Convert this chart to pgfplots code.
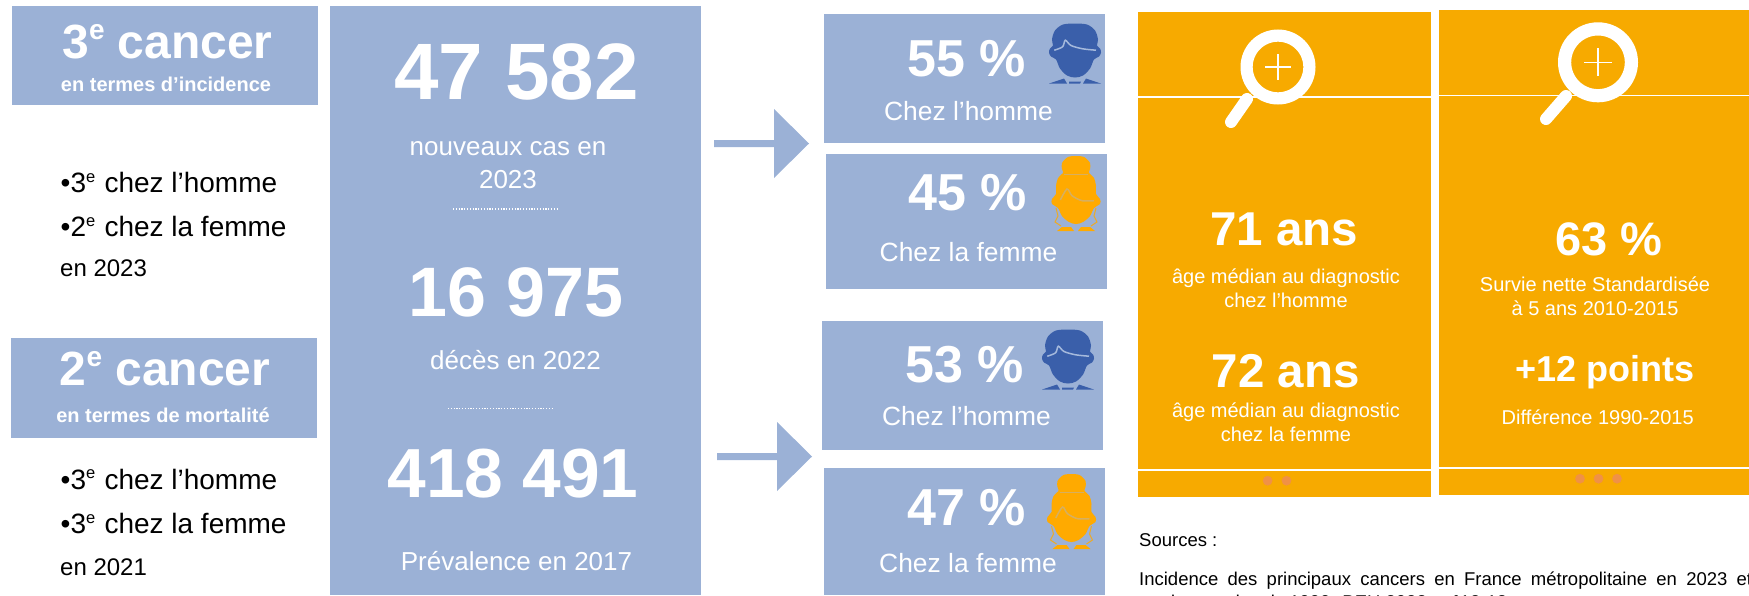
\documentclass[border=0pt]{standalone}
\usepackage{pgfplots}
\pgfplotsset{compat=1.18}
\usepackage{pgfplotstable}
\usepackage{fontspec}
\setmainfont{Liberation Sans}
\definecolor{pblue}{RGB}{155,177,214}
\definecolor{porange}{RGB}{247,170,0}
\definecolor{mblue}{RGB}{58,95,170}
\definecolor{mline}{RGB}{165,185,220}
\definecolor{fline}{RGB}{215,175,95}
\definecolor{ficon}{RGB}{255,170,0}
\definecolor{pdot}{RGB}{240,145,70}

% 1 px of the picture = 1 pt
\newcommand{\fs}[1]{\fontsize{#1}{#1}\selectfont}
\newcommand{\sue}[2]{\raisebox{#2pt}{\fs{#1}e}}
\newcommand{\rect}[5]{\addplot[fill=#5,draw=none] coordinates {(#1,#2) (#3,#2) (#3,#4) (#1,#4)} -- cycle;}
\newcommand{\lab}[4]{\node[anchor=base,inner sep=0pt,text=#4] at (axis cs:#1,#2) {#3};}
\newcommand{\labl}[4]{\node[anchor=base west,inner sep=0pt,text=#4] at (axis cs:#1,#2) {#3};}

% icon outlines, centre of head at x=0, top at y=0
\pgfplotstableread{
x y
0 0
12 1
20 7
23 16
22 22
25 25
26 29
24 33
19 36
15 45
8 52
0 54
-8 52
-15 45
-19 36
-24 33
-26 29
-25 25
-22 22
-23 16
-20 7
-12 1
0 0
}\malehead
\pgfplotstableread{
x y
-20.7 26.7
-12.4 23.3
-9.7 16.7
-4 22
7.6 25.3
21 26.7
}\malehair
\pgfplotstableread{
x y
0 0
8 1
14 7
14 13
13 17
18 22
20 30
20 38
24 43
24 48
18 52
14 60
7 66
0 68
-7 66
-14 60
-18 52
-24 48
-24 43
-20 38
-20 30
-18 22
-13 17
-14 13
-14 7
-8 1
0 0
}\femhead
\pgfplotstableread{
x y
-15.7 44
-9 33
-4 39.7
6 44.7
18 44.7
}\femhair

\newcommand{\maleicon}[2]{%
  \addplot[fill=mblue,draw=none,smooth,tension=.55] table[x expr=\thisrow{x}+#1,y expr=\thisrow{y}+#2] {\malehead};
  \addplot[draw=mline,line width=1.5pt,smooth,tension=.5] table[x expr=\thisrow{x}+#1,y expr=\thisrow{y}+#2] {\malehair};
  \addplot[fill=mblue,draw=none] coordinates {(#1-26,#2+60) (#1-11,#2+55) (#1-8,#2+60)} -- cycle;
  \addplot[fill=mblue,draw=none] coordinates {(#1-6,#2+58) (#1+6,#2+58) (#1+5,#2+60) (#1-6,#2+60)} -- cycle;
  \addplot[fill=mblue,draw=none] coordinates {(#1+8,#2+60) (#1+11,#2+55) (#1+26,#2+60)} -- cycle;
}
\newcommand{\femicon}[2]{%
  \addplot[fill=ficon,draw=none,smooth,tension=.55] table[x expr=\thisrow{x}+#1,y expr=\thisrow{y}+#2] {\femhead};
  \addplot[draw=fline,line width=1.5pt,smooth,tension=.5] table[x expr=\thisrow{x}+#1,y expr=\thisrow{y}+#2] {\femhair};
  \addplot[draw=fline,line width=1pt] coordinates {(#1-12,#2+18) (#1+12,#2+18)};
  \addplot[draw=ficon!80!pblue,line width=1pt] coordinates {(#1-20,#2+52) (#1-18,#2+60) (#1-21,#2+66) (#1-15,#2+70)};
  \addplot[draw=ficon!80!pblue,line width=1pt] coordinates {(#1+20,#2+52) (#1+18,#2+60) (#1+21,#2+66) (#1+15,#2+70)};
  \addplot[fill=ficon,draw=none] coordinates {(#1-19,#2+75) (#1-14,#2+71) (#1-5,#2+71) (#1-2,#2+75)} -- cycle;
  \addplot[fill=ficon,draw=none] coordinates {(#1+2,#2+75) (#1+5,#2+71) (#1+14,#2+71) (#1+19,#2+75)} -- cycle;
}
% lens: cx cy ring-mid-radius ring-width plus-half, handle from-x from-y to-x to-y
% marks go on top of all plots, so the ring is an open mark and the plus a plain plot
\newcommand{\lens}[9]{%
  \addplot[draw=white,line width=12pt,line cap=round] coordinates {(#6,#7) (#8,#9)};
  \addplot[only marks,color=white,mark=o,mark size=#3pt,mark options={draw=white,line width=#4pt}] coordinates {(#1,#2)};
  \addplot[draw=white,line width=1.6pt] coordinates {(#1-#5,#2) (#1+#5,#2)};
  \addplot[draw=white,line width=1.6pt] coordinates {(#1,#2-#5) (#1,#2+#5)};
}

\begin{document}
\begin{tikzpicture}
\useasboundingbox (0,0) rectangle (1749pt,595pt);
\begin{axis}[
  at={(0,0)},anchor=south west,
  scale only axis,width=1749pt,height=595pt,
  xmin=0,xmax=1749,ymin=0,ymax=595,y dir=reverse,
  axis lines=none,clip=true,
]
% boxes
\rect{12}{6}{318}{105}{pblue}
\rect{11}{338}{317}{438}{pblue}
\rect{330}{6}{701}{595}{pblue}
\rect{824}{14}{1105}{143}{pblue}
\rect{826}{154}{1107}{289}{pblue}
\rect{822}{321}{1103}{450}{pblue}
\rect{824}{468}{1105}{595}{pblue}
\rect{1138}{12}{1431}{497}{porange}
\rect{1439}{10}{1749}{495}{porange}

% arrows
\addplot[fill=pblue,draw=none] coordinates {(714,140) (774,140) (774,109) (809,143.5) (774,178) (774,147) (714,147)} -- cycle;
\addplot[fill=pblue,draw=none] coordinates {(717,453) (777,453) (777,422) (812,456.5) (777,491) (777,460) (717,460)} -- cycle;

% white rules of the orange cards
\addplot[draw=white,line width=1.5pt] coordinates {(1138,97) (1431,97)};
\addplot[draw=white,line width=1.5pt] coordinates {(1138,470) (1431,470)};
\addplot[draw=white,line width=1.5pt] coordinates {(1439,95.3) (1749,95.3)};
\addplot[draw=white,line width=1.5pt] coordinates {(1439,468) (1749,468)};

% magnifiers
\lens{1278}{67}{31.4}{12.2}{13}{1247}{99}{1231}{122}
\lens{1598}{62.3}{33.4}{13.2}{14}{1566}{96}{1546}{119}

% dots
\addplot[only marks,color=pdot,mark=*,mark size=4.6pt,mark options={fill=pdot,draw=pdot}] coordinates {(1267.6,480.7) (1286.5,480.7) (1580,478.7) (1598.5,478.7) (1617,478.7)};

% dotted separators
\addplot[draw=white,line width=1.2pt,dash pattern=on 1.2pt off 1.6pt] coordinates {(453,209) (559,209)};
\addplot[draw=white,line width=1.2pt,dash pattern=on 1.2pt off 1.6pt] coordinates {(448,408.7) (554,408.7)};

% icons
\maleicon{1075}{23.5}
\maleicon{1068}{329.5}
\femicon{1076}{156}
\femicon{1071.5}{474}

% left column
\lab{167.5}{58}{\fs{48}\bfseries 3\sue{28}{18.6} cancer}{white}
\lab{166}{91.7}{\fs{20}\bfseries en termes d’incidence}{white}
\lab{165}{385}{\fs{48}\bfseries 2\sue{28}{18.6} cancer}{white}
\lab{163}{422}{\fs{20}\bfseries en termes de mortalité}{white}
\labl{60.5}{192.7}{\fs{28}•3\sue{16.5}{10.7}\hspace{1.5pt} chez l’homme}{black}
\labl{60.5}{236.7}{\fs{28}•2\sue{16.5}{10.7}\hspace{1.5pt} chez la femme}{black}
\labl{60}{276.7}{\fs{24}en 2023}{black}
\labl{60.5}{489.3}{\fs{28}•3\sue{16.5}{10.7}\hspace{1.5pt} chez l’homme}{black}
\labl{60.5}{533.7}{\fs{28}•3\sue{16.5}{10.7}\hspace{1.5pt} chez la femme}{black}
\labl{60}{575}{\fs{24}en 2021}{black}

% centre column
\lab{516.7}{99.3}{\fs{80}\bfseries 47 582}{white}
\lab{508}{155.7}{\fs{26}nouveaux cas en}{white}
\lab{508}{188}{\fs{26}2023}{white}
\lab{516}{316.5}{\fs{70}\bfseries 16 975}{white}
\lab{515.5}{369.7}{\fs{26}décès en 2022}{white}
\lab{513}{497.3}{\fs{69.5}\bfseries 418 491}{white}
\lab{516.5}{570}{\fs{26}Prévalence en 2017}{white}

% share boxes
\lab{966.5}{76}{\fs{52}\bfseries 55 \%}{white}
\lab{968.5}{120}{\fs{26.4}Chez l’homme}{white}
\lab{968}{210}{\fs{52}\bfseries 45 \%}{white}
\lab{968.5}{261.7}{\fs{26.4}Chez la femme}{white}
\lab{964.5}{382.7}{\fs{52}\bfseries 53 \%}{white}
\lab{966.5}{425}{\fs{26.4}Chez l’homme}{white}
\lab{967}{525}{\fs{52}\bfseries 47 \%}{white}
\lab{968}{572.7}{\fs{26.4}Chez la femme}{white}

% orange cards
\lab{1284}{245.7}{\fs{47.5}\bfseries 71 ans}{white}
\lab{1286}{283.3}{\fs{20}âge médian au diagnostic}{white}
\lab{1286}{307.7}{\fs{20}chez l’homme}{white}
\lab{1285.6}{387.7}{\fs{47.5}\bfseries 72 ans}{white}
\lab{1286}{417.3}{\fs{20}âge médian au diagnostic}{white}
\lab{1286}{441.7}{\fs{20}chez la femme}{white}
\lab{1609}{255}{\fs{47}\bfseries 63 \%}{white}
\lab{1595}{291.7}{\fs{20}Survie nette Standardisée}{white}
\lab{1595}{315.7}{\fs{20}à 5 ans 2010-2015}{white}
\lab{1605}{381.7}{\fs{36}\bfseries +12 points}{white}
\lab{1597.7}{424}{\fs{20}Différence 1990-2015}{white}

% sources
\labl{1139}{546.7}{\fs{18.5}Sources :}{black}
\labl{1139}{585}{\makebox[613pt][s]{\fs{18.5}Incidence des principaux cancers en France métropolitaine en 2023 et}}{black}
\labl{1139}{608}{\fs{18.5}tendances depuis 1990. BEH 2023 ; n°12-13}{black}
\end{axis}
\end{tikzpicture}
\end{document}
